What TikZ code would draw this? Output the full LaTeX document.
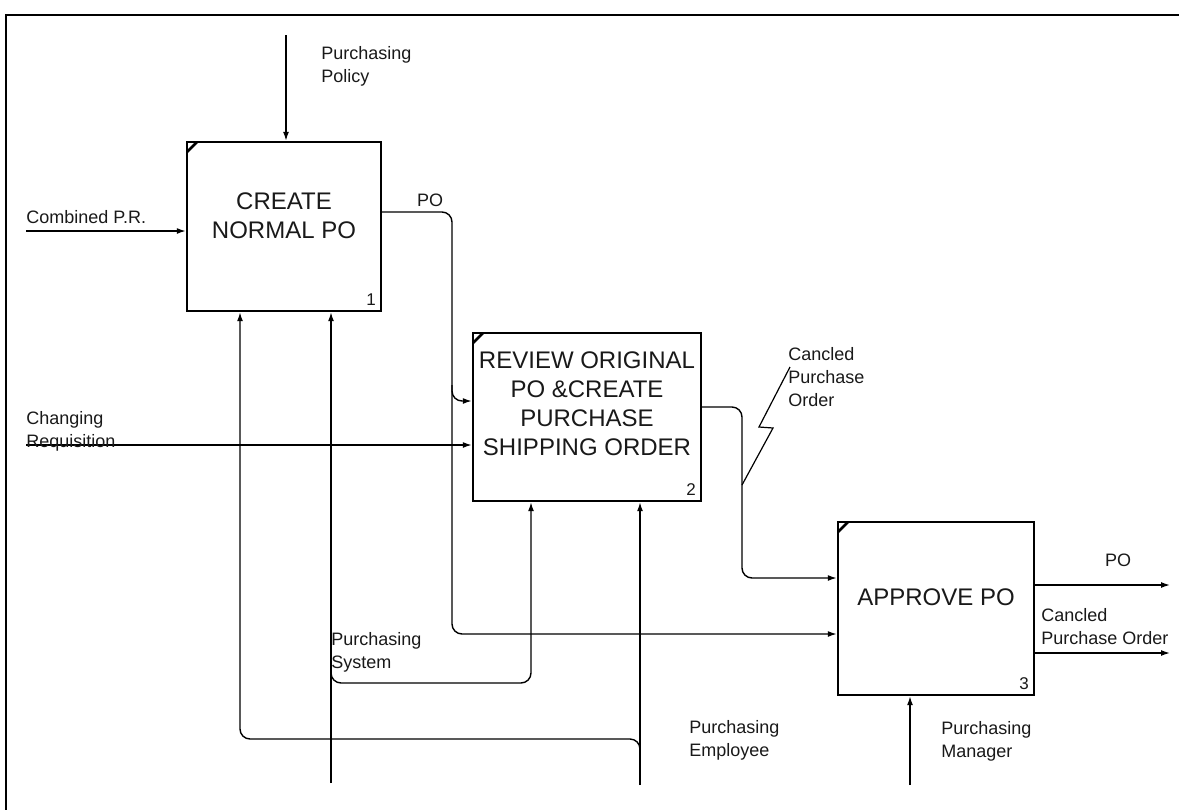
\documentclass[tikz,border=0pt]{standalone}
\usepackage{fontspec}
\setmainfont{Liberation Sans}
\usetikzlibrary{arrows.meta}

\begin{document}
\begin{tikzpicture}[
    x=0.5pt, y=-0.5pt,
    every node/.style={inner sep=0pt, text=black!90},
    act/.style={draw, rectangle, line width=1.2pt,
        path picture={\draw[line width=1.4pt] ([yshift=-5pt]path picture bounding box.north west) -- ([xshift=5pt]path picture bounding box.north west);}},
    boxtext/.style={align=center, font=\fontsize{12}{14.5}\selectfont},
    num/.style={font=\fontsize{8.5}{9}\selectfont, anchor=south east, xshift=-3pt, yshift=3pt},
    lbl/.style={align=left, font=\fontsize{9}{11.5}\selectfont},
    flow/.style={draw, line width=0.7pt, -{Latex[length=4.5pt,width=3pt]}},
    bolt/.style={draw, line width=0.6pt}
]
\useasboundingbox (0,0) rectangle (1179,810);
\draw[line width=1.2pt] (1179,15) -- (6,15) -- (6,810);

% activities
\node[act, minimum width=97pt, minimum height=84.5pt,
    label={[boxtext, yshift=5.2pt]center:{CREATE\\NORMAL PO}},
    label={[num]south east:1}] (b1) at (284,226.5) {};
\node[act, minimum width=114pt, minimum height=84pt,
    label={[boxtext, yshift=6.5pt]center:{REVIEW ORIGINAL\\PO \&CREATE\\PURCHASE\\SHIPPING ORDER}},
    label={[num]south east:2}] (b2) at (587,417) {};
\node[act, minimum width=98pt, minimum height=86.5pt,
    label={[boxtext, yshift=5.8pt]center:{APPROVE PO}},
    label={[num]south east:3}] (b3) at (936,608.5) {};

\coordinate (pol) at (286,35);
\coordinate (cpr) at (26,231);
\coordinate (chg) at (26,445);
\coordinate (po1) at (452,212);
\coordinate (po2) at (452,634);
\coordinate (po3) at (452,401);
\coordinate (rev) at (742,407);
\coordinate (rev2) at (742,578);
\coordinate (zz) at (742,485);
\coordinate (sys) at (331,783);
\coordinate (sysj) at (331,683);
\coordinate (sysk) at (531,683);
\coordinate (emp) at (640,785);
\coordinate (empj) at (240,739);
\coordinate (mgr) at (910,785);
\coordinate (out1) at (1170,585);
\coordinate (out2) at (1170,653);

% arrows
\draw[flow] (pol) -- (pol |- b1.north);
\draw[flow] (cpr) -- (cpr -| b1.west);
\draw[flow, rounded corners=5pt] (po1 -| b1.east) -- (po1) -- (po2) -- (po2 -| b3.west);
\draw[flow, rounded corners=5pt] (po3) ++(0,-16) -- (po3) -- (po3 -| b2.west);
\draw[flow] (chg) -- (chg -| b2.west);
\draw[flow, rounded corners=5pt] (rev -| b2.east) -- (rev) -- (rev2) -- (rev2 -| b3.west);
\draw[bolt] (zz) -- ++(31,-57) -- ++(-14,-1) -- ++(31,-60);
\draw[flow] (sys) -- (sys |- b1.south);
\draw[flow, rounded corners=5pt] (sysj) ++(0,-12) -- (sysj) -- (sysk) -- (sysk |- b2.south);
\draw[flow] (emp) -- (emp |- b2.south);
\draw[flow, rounded corners=5pt] (emp) ++(0,-35) |- (empj) -- (empj |- b1.south);
\draw[flow] (mgr) -- (mgr |- b3.south);
\draw[flow] (b3.east |- out1) -- (out1);
\draw[flow] (b3.east |- out2) -- (out2);

% labels
\node[lbl, anchor=west] (lpol) at (321,66) {Purchasing\\Policy};
\node[lbl, anchor=west] (lcpr) at (26,217) {Combined P.R.};
\node[lbl] (lpo1) at (430,200) {PO};
\node[lbl, anchor=west] (lchg) at (26,431) {Changing\\Requisition};
\node[lbl, anchor=west] (lcan) at (788,377) {Cancled\\Purchase\\Order};
\node[lbl, anchor=west] (lsys) at (331,652) {Purchasing\\System};
\node[lbl, anchor=west] (lemp) at (689,740) {Purchasing\\Employee};
\node[lbl, anchor=west] (lmgr) at (941,741) {Purchasing\\Manager};
\node[lbl] (lpo3) at (1118,560) {PO};
\node[lbl, anchor=west] (lcan3) at (1041,627) {Cancled\\Purchase Order};
\end{tikzpicture}
\end{document}
